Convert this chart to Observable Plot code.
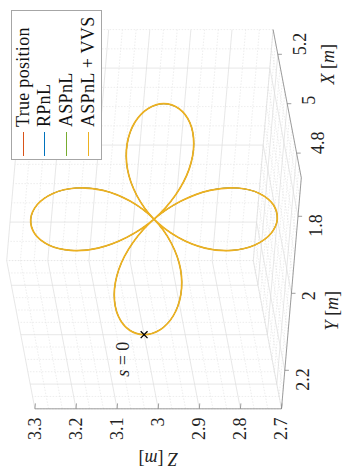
<!DOCTYPE html>
<html>
<head>
<meta charset="utf-8">
<script src="https://cdn.jsdelivr.net/npm/d3@7"></script>
<script src="https://cdn.jsdelivr.net/npm/@observablehq/plot@0.6"></script>
<style>
  html, body { margin: 0; padding: 0; overflow: hidden; background: #fff; width: 342px; height: 468px; }
  /* the figure is laid out landscape and turned a quarter turn counter-clockwise */
  #fig { position: absolute; left: 0; top: 0; width: 468px; height: 342px;
         transform-origin: 0 0; transform: translateY(468px) rotate(-90deg);
         font-family: "Liberation Serif", "Times New Roman", serif; background: #fff; }
  #fig svg text { font-family: "Liberation Serif", "Times New Roman", serif; }
  #legend { position: absolute; left: 308px; top: 11px; width: 150px; height: 91px;
            box-sizing: border-box; border: 1px solid #a6a6a6; background: #fff;
            font-size: 18px; letter-spacing: 0.3px; color: #111; }
  .row { position: absolute; left: 0; height: 22px; display: flex; align-items: center; white-space: nowrap; }
  .sw { width: 24px; height: 0; border-top: 1.6px solid; margin: 0 5px 0 3px; }
</style>
</head>
<body>
<div id="fig"></div>
<script>
// axis limits and ticks (metres)
const xLim = [4.7, 5.3];
const yLim = [1.7, 2.3];
const zLim = [2.7, 3.3];
const xTicks = [4.8, 5.0, 5.2];
const yTicks = [1.8, 2.0, 2.2];
const zTicks = [2.7, 2.8, 2.9, 3.0, 3.1, 3.2, 3.3];
const xMinor = [4.7, 4.75, 4.85, 4.9, 4.95, 5.05, 5.1, 5.15, 5.25, 5.3];
const yMinor = [1.7, 1.75, 1.85, 1.9, 1.95, 2.05, 2.1, 2.15, 2.25, 2.3];
const zMinor = [2.7333, 2.7667, 2.8333, 2.8667, 2.9333, 2.9667, 3.0333, 3.0667, 3.1333, 3.1667, 3.2333, 3.2667];

// trajectory: four-leaf path in the plane X = 5.0
const pathX = 5.0;
const pathY = [2.300, 2.287, 2.251, 2.196, 2.130, 2.062, 2.000, 1.953, 1.925, 1.919, 1.933, 1.962,
               2.000, 2.038, 2.067, 2.081, 2.075, 2.047, 2.000, 1.938, 1.870, 1.804, 1.749, 1.713,
               1.700, 1.713, 1.749, 1.804, 1.870, 1.938, 2.000, 2.047, 2.075, 2.081, 2.067, 2.038,
               2.000, 1.962, 1.933, 1.919, 1.925, 1.953, 2.000, 2.062, 2.130, 2.196, 2.251, 2.287];
const pathZ = [3.000, 3.038, 3.067, 3.081, 3.075, 3.047, 3.000, 2.938, 2.870, 2.804, 2.749, 2.713,
               2.700, 2.713, 2.749, 2.804, 2.870, 2.938, 3.000, 3.047, 3.075, 3.081, 3.067, 3.038,
               3.000, 2.962, 2.933, 2.919, 2.925, 2.953, 3.000, 3.062, 3.130, 3.196, 3.251, 3.287,
               3.300, 3.287, 3.251, 3.196, 3.130, 3.062, 3.000, 2.953, 2.925, 2.919, 2.933, 2.962];
const startPoint = [5.0, 2.3, 3.0];   // s = 0

const seriesNames  = ["True position", "RPnL", "ASPnL", "ASPnL + VVS"];
const seriesColors = ["#D95319", "#0072BD", "#77AC30", "#EDB120"];

// orthographic camera: screen units moved per metre along X, Y, Z
const cam = { origin: [xLim[0], yLim[1], zLim[0]], at: [58.7, 281],
              X: [247, -47], Y: [-385, -33], Z: [0, -411] };
function proj(X, Y, Z) {
  const a = X - cam.origin[0], b = Y - cam.origin[1], c = Z - cam.origin[2];
  return [cam.at[0] + cam.X[0] * a + cam.Y[0] * b + cam.Z[0] * c,
          cam.at[1] + cam.X[1] * a + cam.Y[1] * b + cam.Z[1] * c];
}
function seg(p, q) {
  const a = proj(...p), b = proj(...q);
  return { x1: a[0], y1: a[1], x2: b[0], y2: b[1] };
}

// grid on the three back planes
function gridLines(xs, ys, zs) {
  const out = [];
  for (const y of ys) out.push(seg([xLim[1], y, zLim[0]], [xLim[1], y, zLim[1]]));
  for (const z of zs) out.push(seg([xLim[1], yLim[0], z], [xLim[1], yLim[1], z]));
  for (const x of xs) out.push(seg([x, yLim[1], zLim[0]], [x, yLim[1], zLim[1]]));
  for (const z of zs) out.push(seg([xLim[0], yLim[1], z], [xLim[1], yLim[1], z]));
  for (const x of xs) out.push(seg([x, yLim[0], zLim[0]], [x, yLim[1], zLim[0]]));
  for (const y of ys) out.push(seg([xLim[0], y, zLim[0]], [xLim[1], y, zLim[0]]));
  return out;
}
const minorGrid = gridLines(xMinor, yMinor, zMinor);
const majorGrid = gridLines(xTicks, yTicks, zTicks);

const axisLines = [
  seg([xLim[0], yLim[1], zLim[0]], [xLim[0], yLim[1], zLim[1]]),
  seg([xLim[0], yLim[0], zLim[0]], [xLim[0], yLim[1], zLim[0]]),
  seg([xLim[0], yLim[0], zLim[0]], [xLim[1], yLim[0], zLim[0]])
];
const tickMarks = [
  ...zTicks.map(z => seg([xLim[0], yLim[1], z], [xLim[0], yLim[1] - 0.014, z])),
  ...yTicks.map(y => seg([xLim[0], y, zLim[0]], [xLim[0], y, zLim[0] - 0.01])),
  ...xTicks.map(x => seg([x, yLim[0], zLim[0]], [x, yLim[0], zLim[0] - 0.01]))
];
const zLabels = zTicks.map(z => { const p = proj(xLim[0], yLim[1], z); return { u: p[0] - 8.7, v: p[1], t: String(z) }; });
const yLabels = yTicks.map(y => { const p = proj(xLim[0], y, zLim[0]); return { u: p[0] + 2, v: p[1] + 11, t: String(y) }; });
const xLabels = xTicks.map(x => { const p = proj(x, yLim[0], zLim[0]); return { u: p[0] - 1, v: p[1] + 15, t: String(x) }; });

const path = pathY.map((y, i) => { const p = proj(pathX, y, pathZ[i]); return { u: p[0], v: p[1] }; });
const sp = proj(...startPoint);
const start = [{ u: sp[0], v: sp[1] }];

const xTitle = (() => { const p = proj(5.16, yLim[0], zLim[0]); return [{ u: p[0], v: p[1] + 49, t: "X [m]" }]; })();
const yTitle = (() => { const p = proj(xLim[0], 2.045, zLim[0]); return [{ u: p[0], v: p[1] + 42, t: "Y [m]" }]; })();
const zTitle = (() => { const p = proj(xLim[0], yLim[1], 3.0); return [{ u: p[0] - 50, v: p[1], t: "Z [m]" }]; })();

const txt = { x: "u", y: "v", text: "t", fill: "#222", fontSize: 18 };

const chart = Plot.plot({
  width: 468, height: 342, margin: 0,
  x: { domain: [0, 468], range: [0, 468], axis: null },
  y: { domain: [0, 342], range: [0, 342], axis: null },
  style: { fontFamily: "'Liberation Serif', 'Times New Roman', serif", fontSize: "18px", background: "#fff", overflow: "visible" },
  marks: [
    Plot.link(minorGrid, { x1: "x1", y1: "y1", x2: "x2", y2: "y2", stroke: "#e0e0e0", strokeWidth: 0.6, strokeDasharray: "1.5,1.5" }),
    Plot.link(majorGrid, { x1: "x1", y1: "y1", x2: "x2", y2: "y2", stroke: "#dddddd", strokeWidth: 0.7 }),
    Plot.link(axisLines, { x1: "x1", y1: "y1", x2: "x2", y2: "y2", stroke: "#858585", strokeWidth: 0.8 }),
    Plot.link(tickMarks, { x1: "x1", y1: "y1", x2: "x2", y2: "y2", stroke: "#858585", strokeWidth: 0.8 }),
    Plot.text(zLabels, { ...txt, textAnchor: "end", lineAnchor: "middle" }),
    Plot.text(yLabels, { ...txt, textAnchor: "end", lineAnchor: "top" }),
    Plot.text(xLabels, { ...txt, textAnchor: "start", lineAnchor: "top" }),
    Plot.text(xTitle, { ...txt, textAnchor: "middle", lineAnchor: "middle" }),
    Plot.text(yTitle, { ...txt, textAnchor: "middle", lineAnchor: "middle" }),
    Plot.text(zTitle, { ...txt, textAnchor: "middle", lineAnchor: "middle", rotate: -90 }),
    // the estimates sit under the last series, which is drawn widest on top
    ...seriesColors.map((c, i) => Plot.line(path, { x: "u", y: "v", stroke: c,
        strokeWidth: i === seriesColors.length - 1 ? 1.7 : 0.6, curve: "catmull-rom-closed" })),
    Plot.dot(start, { x: "u", y: "v", symbol: "times", r: 3.2, stroke: "#000", strokeWidth: 1.3 }),
    Plot.text([{ u: sp[0] - 7, v: sp[1] - 21, t: "s = 0" }], { ...txt, textAnchor: "end", lineAnchor: "middle" })
  ]
});

// math-style italics for symbols
chart.querySelectorAll("text").forEach(el => {
  const s = el.textContent;
  const m = /^([XYZ]) \[m\]$/.exec(s);
  if (m) el.innerHTML = `<tspan font-style="italic">${m[1]}</tspan> [<tspan font-style="italic">m</tspan>]`;
  else if (s === "s = 0") el.innerHTML = `<tspan font-style="italic">s</tspan> = 0`;
});

const fig = document.getElementById("fig");
fig.appendChild(chart);

// legend
const legend = document.createElement("div");
legend.id = "legend";
seriesNames.forEach((name, i) => {
  const row = document.createElement("div");
  row.className = "row";
  row.style.top = (i * 21.7) + "px";
  const sw = document.createElement("span");
  sw.className = "sw";
  sw.style.borderTopColor = seriesColors[i];
  const label = document.createElement("span");
  label.textContent = name;
  row.append(sw, label);
  legend.appendChild(row);
});
fig.appendChild(legend);
</script>
</body>
</html>
